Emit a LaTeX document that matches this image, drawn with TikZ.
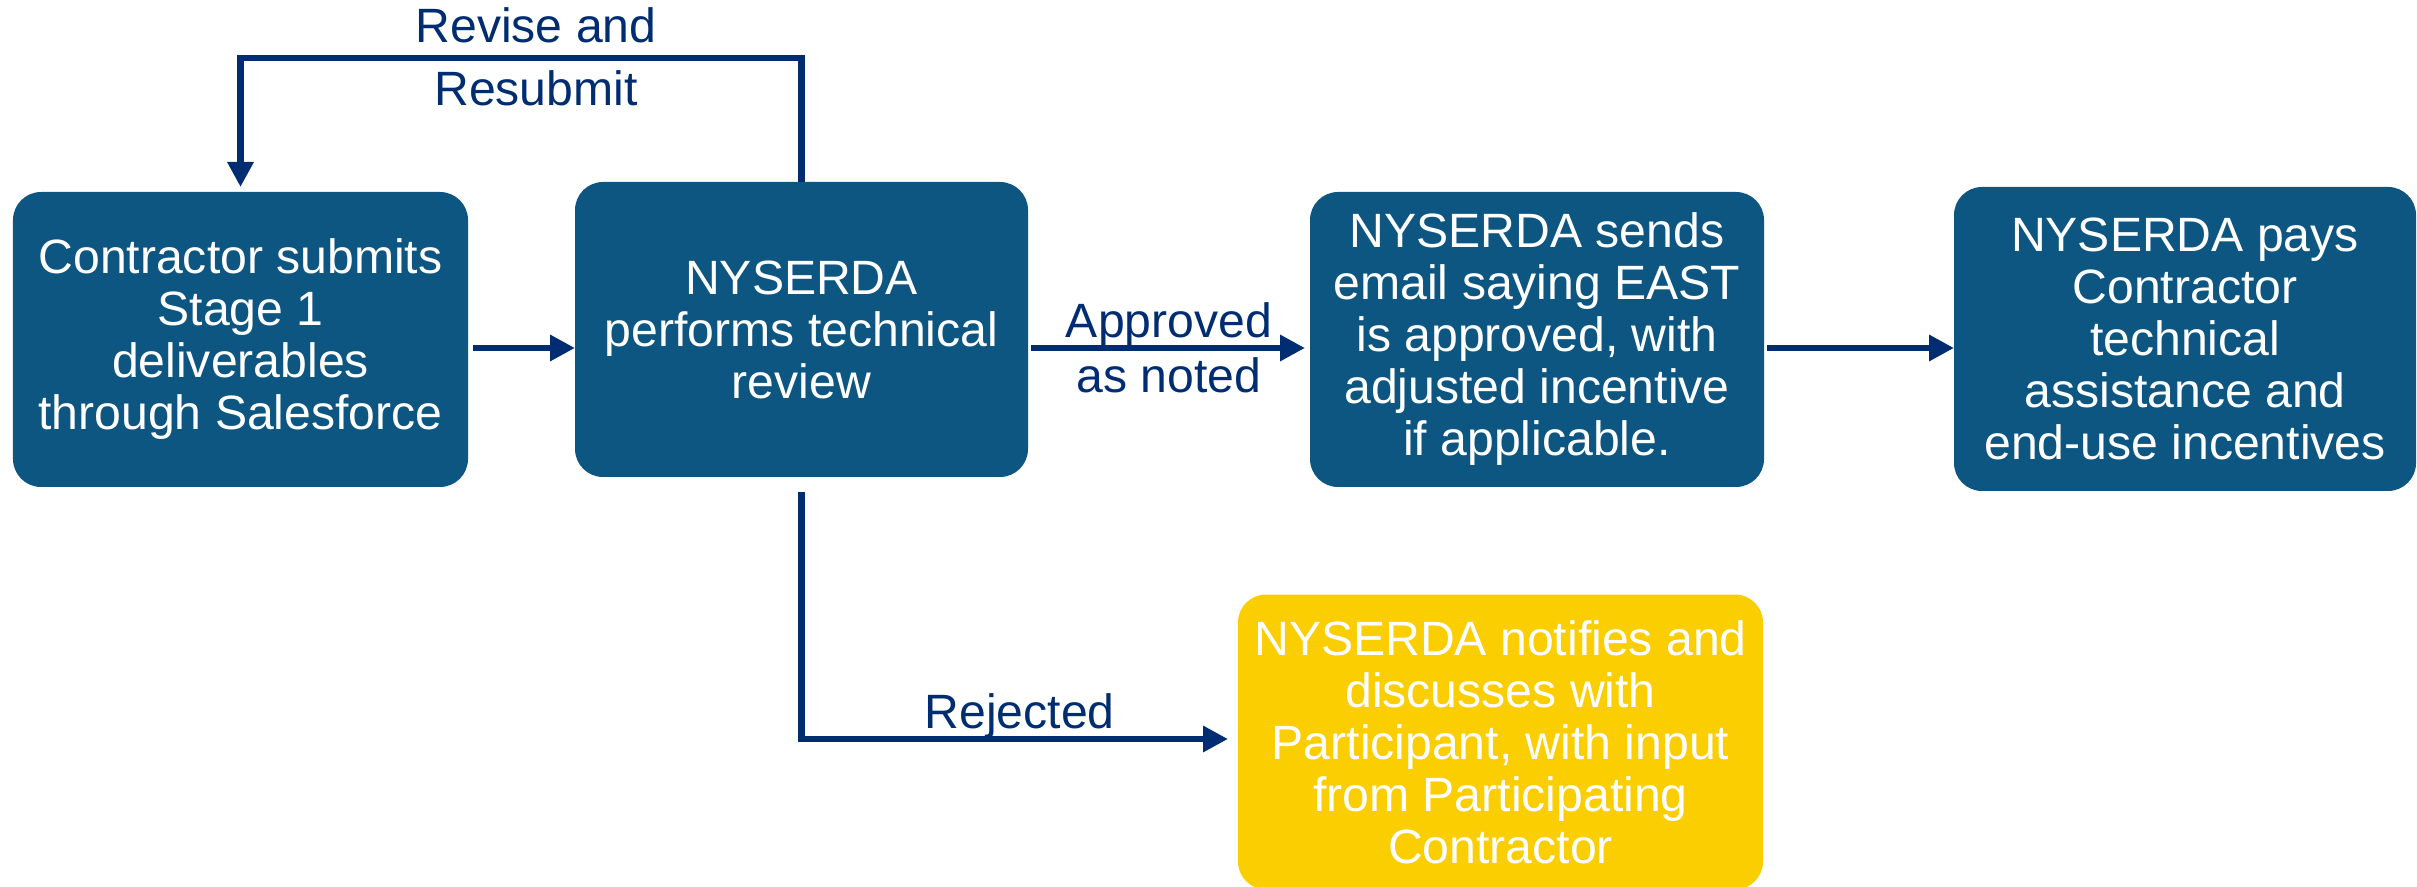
\documentclass[tikz,border=0pt]{standalone}
\usepackage{fontspec}
\setmainfont{Liberation Sans}
\usetikzlibrary{arrows.meta}

\definecolor{boxblue}{RGB}{14,86,130}
\definecolor{linenavy}{RGB}{0,45,114}
\definecolor{boxyellow}{RGB}{250,206,0}

\tikzset{
  stagebox/.style={fill=boxblue, text=white, rounded corners=0.28cm, align=center,
    minimum width=4.55cm, minimum height=2.95cm, inner sep=0pt, outer sep=0pt,
    font=\fontsize{13.7}{14.8}\selectfont},
  flow/.style={draw=linenavy, line width=0.065cm, -{Triangle[length=0.25cm,width=0.25cm]}},
  lbl/.style={text=linenavy, align=center, inner sep=0pt, font=\fontsize{13.7}{14.8}\selectfont}
}

\begin{document}
\begin{tikzpicture}
            \useasboundingbox (0,0) rectangle (24.17,-8.87);

            % Draw the boxes
            \node[stagebox] (contr) at (2.405,-3.395) {Contractor submits\\Stage 1\\deliverables\\through Salesforce};
            \node[stagebox, minimum width=4.53cm] (review) at (8.015,-3.295) {NYSERDA\\performs technical\\review};
            \node[stagebox, minimum width=4.54cm] (email) at (15.37,-3.395) {NYSERDA sends\\email saying EAST\\is approved, with\\adjusted incentive\\if applicable.};
            \node[stagebox, minimum width=4.62cm, minimum height=3.04cm] (pays) at (21.85,-3.39) {NYSERDA pays\\Contractor\\technical\\assistance and\\end-use incentives};
            \node[stagebox, fill=boxyellow, minimum width=5.25cm] (notify) at (15.005,-7.42) {NYSERDA notifies and\\discusses with\\Participant, with input\\from Participating\\Contractor};

            % Draw the arrows
            \coordinate (row) at (0,-3.48);
            \coordinate (loop) at (5.2,-0.58);
            \draw[flow, shorten <=0.05cm] (contr.east |- row) -- (review.west |- row);
            \draw[flow, shorten <=0.03cm, shorten >=0.05cm] (review.east |- row) -- node[lbl] (apprlbl) {Approved\\[1pt]as noted} (email.west |- row);
            \draw[flow, shorten <=0.03cm] (email.east |- row) -- (pays.west |- row);
            \draw[flow, shorten >=0.05cm] (review.north) |- (loop) -| (contr.north);
            \draw[flow, shorten <=0.15cm, shorten >=0.1cm] (review.south) |- ([yshift=0.03cm]notify.west)
              node[lbl, pos=0.75, anchor=base, yshift=0.11cm] (rejlbl) {Rejected};

            % Draw the loop label
            \node[lbl] (revlbl) at (5.36,-0.57) {Revise and\\[3pt]Resubmit};
\end{tikzpicture}
\end{document}
